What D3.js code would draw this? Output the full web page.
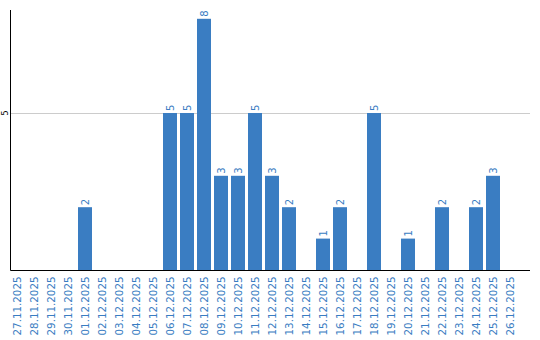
<!DOCTYPE html>
<html>
<head>
<meta charset="UTF-8">
<script src="https://d3js.org/d3.v7.min.js"></script>
<style>
  body { margin: 0; background: #fff; }
  svg text { font-family: "DejaVu Sans", Verdana, sans-serif; }
</style>
</head>
<body>
<svg id="chart" width="540" height="340"></svg>
<script>
// dates and counts
var dates = ["27.11.2025","28.11.2025","29.11.2025","30.11.2025","01.12.2025","02.12.2025",
  "03.12.2025","04.12.2025","05.12.2025","06.12.2025","07.12.2025","08.12.2025","09.12.2025",
  "10.12.2025","11.12.2025","12.12.2025","13.12.2025","14.12.2025","15.12.2025","16.12.2025",
  "17.12.2025","18.12.2025","19.12.2025","20.12.2025","21.12.2025","22.12.2025","23.12.2025",
  "24.12.2025","25.12.2025","26.12.2025"];
var counts = [0,0,0,0,2,0,0,0,0,5,5,8,3,3,5,3,2,0,1,2,0,5,0,1,0,2,0,2,3,0];
var yTicks = [5];

var blue = "#3a7dc2";
var svg = d3.select("#chart");
var plotTop = 10, plotBottom = 270, plotLeft = 10.5, plotRight = 530;

var x = d3.scaleBand()
  .domain(dates)
  .range([10, 517])
  .paddingInner(3 / 17)
  .paddingOuter(0);

var y = d3.scaleLinear()
  .domain([0, 8.28])
  .range([plotBottom, plotTop]);

// grid line
svg.selectAll(".grid")
  .data(yTicks)
  .enter().append("line")
    .attr("x1", plotLeft).attr("x2", plotRight)
    .attr("y1", function(d) { return Math.round(y(d)) + 0.5; })
    .attr("y2", function(d) { return Math.round(y(d)) + 0.5; })
    .attr("stroke", "#cccccc");

// y tick labels
svg.selectAll(".ylab")
  .data(yTicks)
  .enter().append("text")
    .attr("transform", function(d) { return "translate(8," + y(d) + ") rotate(-90)"; })
    .attr("text-anchor", "middle")
    .style("font-size", "8px")
    .attr("fill", "#000")
    .text(function(d) { return d; });

// bars
var data = dates.map(function(d, i) { return { date: d, value: counts[i] }; });

svg.selectAll(".bar")
  .data(data.filter(function(d) { return d.value > 0; }))
  .enter().append("rect")
    .attr("x", function(d) { return x(d.date); })
    .attr("y", function(d) { return y(d.value); })
    .attr("width", x.bandwidth())
    .attr("height", function(d) { return y(0) - y(d.value); })
    .attr("fill", blue);

// value labels
svg.selectAll(".val")
  .data(data.filter(function(d) { return d.value > 0; }))
  .enter().append("text")
    .attr("transform", function(d) {
      return "translate(" + (x(d.date) + x.bandwidth() / 2 + 3.5) + "," + (y(d.value) - 2) + ") rotate(-90)";
    })
    .attr("text-anchor", "start")
    .style("font-size", "10px")
    .attr("fill", blue)
    .text(function(d) { return d.value; });

// x labels
svg.selectAll(".xlab")
  .data(dates)
  .enter().append("text")
    .attr("transform", function(d) {
      return "translate(" + (x(d) + x.bandwidth() / 2 + 3.5) + "," + (plotBottom + 6.5) + ") rotate(-90)";
    })
    .attr("text-anchor", "end")
    .style("font-size", "10.3px")
    .attr("fill", blue)
    .text(function(d) { return d; });

// axes lines
svg.append("line")
  .attr("x1", plotLeft).attr("x2", plotLeft)
  .attr("y1", plotTop).attr("y2", plotBottom + 0.5)
  .attr("stroke", "#000");
svg.append("line")
  .attr("x1", plotLeft).attr("x2", plotRight)
  .attr("y1", plotBottom + 0.5).attr("y2", plotBottom + 0.5)
  .attr("stroke", "#000");
</script>
</body>
</html>
